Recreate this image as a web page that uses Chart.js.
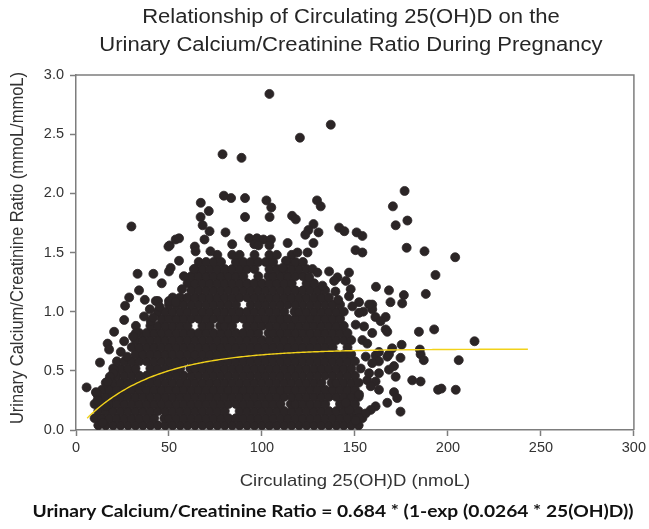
<!DOCTYPE html>
<html>
<head>
<meta charset="utf-8">
<title>Urinary Calcium/Creatinine Ratio vs 25(OH)D</title>
<script src="https://cdn.jsdelivr.net/npm/chart.js@4.4.1/dist/chart.umd.min.js"></script>
<style>
  html, body { margin: 0; padding: 0; background: #ffffff; }
  #wrap { width: 649px; height: 529px; }
</style>
</head>
<body>
<div id="wrap"><canvas id="chart" width="649" height="529"></canvas></div>
<script>
// ---- text ----
const titleLines = [
  'Relationship of Circulating 25(OH)D on the',
  'Urinary Calcium/Creatinine Ratio During Pregnancy'
];
const xTitle = 'Circulating 25(OH)D (nmoL)';
const yTitle = 'Urinary Calcium/Creatinine Ratio (mmoL/mmoL)';
const equation = 'Urinary Calcium/Creatinine Ratio = 0.684 * (1-exp (0.0264 * 25(OH)D))';

// ---- axes ----
const xTicks = [0, 50, 100, 150, 200, 250, 300];
const yTicks = [0, 0.5, 1.0, 1.5, 2.0, 2.5, 3.0];

// ---- fitted curve: ratio = A * (1 - exp(-k * 25(OH)D)) ----
const fitA = 0.684;
const fitK = 0.0264;
const fitRange = [6, 243];

// ---- observations: dense central cluster, one row per ratio level [ratio, [25(OH)D values]] ----
const clusterRows = [
  [0.04, [12,16,20,24,28,32,36,40,44,48,52,56,60,64,68,72,76,80,84,88,92,96,100,104,108,112,116,120,124,128,132,136,140,144,148,152]],
  [0.10, [10,14,18,22,26,30,34,38,42,47.5,50,54,58,62,66,70,74,78,82,86,90,94,98,102,106,110,114,118,122,126,130,134,138,142,146,150,154]],
  [0.16, [12,16,20,24,28,32,36,40,44,48,52,56,60,64,68,72,76,80,88,92,96,100,104,108,112,116,120,124,128,132,136,140,144,148,152]],
  [0.22, [10,14,18,22,26,30,34,38,42,46,50,54,58,62,66,70,74,78,82,86,90,94,98,102,106,110,115.5,118,122,126,130,134,142,146,150]],
  [0.28, [12,16,20,24,28,32,36,40,44,48,52,56,60,64,68,72,76,80,84,88,92,96,100,104,108,112,116,120,124,128,132,136,140,144,148,152]],
  [0.34, [14,18,22,26,30,34,38,42,46,50,54,58,62,66,70,74,78,82,86,90,94,98,102,106,110,114,118,122,126,130,134,138,142,146,150]],
  [0.40, [16,20,24,28,32,36,40,44,48,52,56,60,64,68,72,76,80,84,88,92,96,100,104,108,112,116,120,124,128,132,137.5,140,144,148,152]],
  [0.46, [22,26,30,34,38,42,46,50,54,58,62,66,70,74,78,82,86,90,94,98,102,106,110,114,118,122,126,130,134,138,142,146,150]],
  [0.52, [20,24,28,32,40,44,48,52,56,61.5,64,68,72,76,80,84,88,92,96,100,104,108,112,116,120,124,128,132,136,140,144,148]],
  [0.58, [22,26,30,34,38,42,46,50,54,58,62,66,70,74,78,82,86,90,94,98,102,106,110,114,118,122,126,130,134,138,142,146,150]],
  [0.64, [32,36,40,44,48,52,56,60,64,68,72,76,80,84,88,92,96,100,104,108,112,116,120,124,128,132,136,140,144,148]],
  [0.70, [30,34,38,42,46,50,54,58,62,66,70,74,78,82,86,90,94,98,102,106,110,114,118,122,126,130,134,138,146]],
  [0.76, [32,36,40,44,48,52,56,60,64,68,72,76,80,84,88,92,96,100,104,108,112,116,120,124,128,132,136,140,144,148]],
  [0.82, [34,38,42,46,50,54,58,62,66,70,74,78,82,86,90,94,98,103.5,106,110,114,118,122,126,130,134,138,142,146]],
  [0.88, [40,44,48,52,56,60,68,72,77.5,80,84,92,96,100,104,108,112,116,120,124,128,132,136,140,144]],
  [0.94, [46,50,54,58,62,66,70,74,78,82,86,90,94,98,102,106,110,114,118,122,126,130,134,138,142]],
  [1.00, [44,48,52,56,60,64,68,72,76,80,84,88,92,96,100,104,108,112,117.5,120,124,128,132,136,140,144]],
  [1.06, [50,54,58,62,66,70,74,78,82,86,94,98,102,106,110,114,118,122,126,130,134,138,142]],
  [1.12, [52,56,60,64,68,72,76,80,84,88,92,96,100,104,108,112,116,120,124,128,132,136]],
  [1.18, [62,66,70,74,78,82,86,90,94,98,102,106,110,114,118,122,126,130,134]],
  [1.24, [60,64,68,72,76,80,84,88,92,96,100,104,108,112,116,124,128]],
  [1.30, [62,66,70,74,78,82,86,90,98,103.5,106,110,114,118,122]],
  [1.36, [64,68,72,76,80,84,88,92,96,104,108,112,116,120,124]],
  [1.42, [66,70,74,78,86,90,94,98,102,106,114,118,122]],
  [1.48, [76,84,88,96,104,108,116]]
];

// ---- observations: sparse points around the cluster [25(OH)D, ratio] ----
const upperPoints = [
  [104.0,2.84],[137.0,2.58],[120.4,2.47],[78.8,2.33],[89.0,2.30],
  [79.5,1.98],[83.4,1.96],[90.9,1.96],[102.4,1.94],[105.0,1.88],
  [67.1,1.92],[71.4,1.85],[67.0,1.80],[68.1,1.73],[71.8,1.68],[69.1,1.61],
  [90.9,1.80],[104.1,1.80],[116.2,1.81],[118.2,1.78],[129.6,1.94],[131.6,1.89],
  [127.7,1.74],[125.0,1.69],[123.3,1.65],[130.4,1.67],[127.7,1.58],[113.8,1.58],
  [141.5,1.71],[144.3,1.68],[150.9,1.67],[154.0,1.64],[29.8,1.72],[80.4,1.67],
  [84.0,1.57],[93.2,1.62],[97.3,1.62],[100.8,1.61],[104.8,1.61],[95.9,1.57],[98.1,1.56],[104.0,1.56],
  [50.4,1.56],[53.6,1.61],[55.4,1.62],[63.9,1.55],[49.7,1.55],[64.3,1.51],[72.3,1.51],
  [176.7,2.02],[170.4,1.89],[178.2,1.77],[171.9,1.73],
  [150.3,1.52],[154.0,1.50],[177.8,1.54],[187.4,1.51],[203.9,1.46],[193.3,1.31],
  [112.9,1.43],[111.1,1.37],[119.1,1.50],[124.5,1.50],[127.2,1.36],[125.4,1.29],[129.8,1.33],
  [136.1,1.34],[140.6,1.29],[146.8,1.33],[145.1,1.26],[138.8,1.26]
];
const rightPoints = [
  [161.3,1.21],[168.3,1.18],[176.3,1.14],[175.4,1.07],[188.1,1.15],[169.1,1.08],[159.3,1.06],[154.5,1.00],
  [161.0,0.955],[166.5,0.955],[163.8,0.92],[167.4,0.83],[184.4,0.83],[192.6,0.85],[214.3,0.75],
  [175.1,0.72],[170.0,0.69],[184.9,0.68],[185.3,0.64],[187.0,0.59],[174.5,0.61],[205.8,0.59],
  [180.8,0.42],[185.3,0.41],[194.7,0.34],[196.5,0.35],[204.2,0.34],[174.5,0.155],
  [161.1,0.63],[167.4,0.62],[162.9,0.58],[171.0,0.54],[168.3,0.51],[162.9,0.48],[171.9,0.45],
  [156.6,0.42],[161.1,0.41],[158.5,0.37],[162.9,0.34],[171.0,0.32],[172.7,0.27],[167.4,0.23],
  [161.1,0.20],[158.5,0.17],[155.8,0.14],[152.2,0.10],[150.4,0.08],[146.8,0.17],[145.1,0.23],[152.2,0.30],
  [157.6,0.48],[153.1,0.52],[159.3,0.565],[155.8,0.62],[162.9,0.66],[168.3,0.64],[154.0,0.76],[156.6,0.73],
  [159.3,0.82],[166.5,0.85],[154.9,0.875],[150.4,0.89],[159.3,1.02],[152.2,0.99],[157.6,1.06],[152.2,1.08],
  [146.8,1.13],[147.7,1.19],[148.6,1.045],[139.5,1.17],[141.0,1.10],[132.5,1.22]
];
const leftPoints = [
  [55.4,1.43],[50.9,1.37],[50.0,1.34],[58.0,1.30],[63.4,1.36],[57.0,1.19],
  [33.1,1.32],[41.6,1.32],[46.1,1.24],[33.9,1.18],[28.6,1.12],[37.0,1.10],[26.4,1.05],[42.9,1.09],
  [50.0,1.09],[53.6,1.08],[44.1,1.09],[45.0,1.04],[39.7,1.02],[36.6,0.96],[40.2,0.92],[25.9,0.93],[32.2,0.88],
  [41.5,0.95],[20.5,0.83],[32.2,0.82],[30.7,0.79],[17.0,0.73],[25.9,0.75],[17.8,0.68],[24.1,0.66],[27.5,0.62],
  [12.9,0.57],[20.5,0.51],[20.0,0.48],[18.2,0.45],[17.0,0.41],[5.7,0.36],[10.7,0.32],[11.1,0.31],[11.6,0.25],
  [16.1,0.20],[14.3,0.06]
];

// ---- styling ----
const dotColor = '#2b2526';
const fitColor = '#f2d21a';
const axisColor = '#7d7d7d';
const textColor = '#262626';
const sans = '"Liberation Sans", Arial, Helvetica, sans-serif';
const textStretch = 1.13;   // lettering is set slightly wide

// ---- build datasets ----
const observations = [];
clusterRows.forEach(([ratio, xs]) => xs.forEach(v => observations.push({ x: v, y: ratio })));
[upperPoints, rightPoints, leftPoints].forEach(list =>
  list.forEach(([v, ratio]) => observations.push({ x: v, y: ratio })));

const fitLine = [];
for (let v = fitRange[0]; v <= fitRange[1]; v += 1) {
  fitLine.push({ x: v, y: fitA * (1 - Math.exp(-fitK * v)) });
}

function wideText(ctx, text, x, y, font, color) {
  ctx.save();
  ctx.font = font;
  ctx.fillStyle = color;
  ctx.textAlign = 'center';
  ctx.textBaseline = 'middle';
  ctx.translate(x, y);
  ctx.scale(textStretch, 1);
  ctx.fillText(text, 0, 0);
  ctx.restore();
}

// frame on the top and right, plus all titles
const decorations = {
  id: 'decorations',
  afterDraw(chart) {
    const ctx = chart.ctx;
    const a = chart.chartArea;
    ctx.save();
    ctx.strokeStyle = axisColor;
    ctx.lineWidth = 1.5;
    ctx.beginPath();
    ctx.moveTo(a.left, a.top);
    ctx.lineTo(a.right, a.top);
    ctx.lineTo(a.right, a.bottom);
    ctx.stroke();
    ctx.restore();

    const cx = (a.left + a.right) / 2;
    wideText(ctx, titleLines[0], cx - 4, 18, '19.5px ' + sans, textColor);
    wideText(ctx, titleLines[1], cx - 4, 46, '19.5px ' + sans, textColor);
    wideText(ctx, xTitle, cx, 481, '16.4px ' + sans, '#333333');
    wideText(ctx, equation, 333, 512, 'bold 17px Lato, "Open Sans", sans-serif', '#111111');

    ctx.save();
    ctx.font = '16.5px ' + sans;
    ctx.fillStyle = '#333333';
    ctx.textAlign = 'center';
    ctx.textBaseline = 'middle';
    ctx.translate(18, 248);
    ctx.rotate(-Math.PI / 2);
    ctx.scale(1, textStretch);
    ctx.fillText(yTitle, 0, 0);
    ctx.restore();
  }
};

new Chart(document.getElementById('chart'), {
  type: 'scatter',
  data: {
    datasets: [
      {
        type: 'line',
        data: fitLine,
        borderColor: fitColor,
        borderWidth: 1.4,
        pointRadius: 0,
        fill: false,
        tension: 0,
        order: 0
      },
      {
        data: observations,
        backgroundColor: dotColor,
        borderColor: dotColor,
        borderWidth: 0.8,
        pointRadius: 4.5,
        pointHoverRadius: 4.5,
        order: 1
      }
    ]
  },
  options: {
    responsive: false,
    devicePixelRatio: 1,
    animation: false,
    events: [],
    layout: { padding: { top: 75, right: 13, left: 0, bottom: 0 } },
    plugins: { legend: { display: false }, tooltip: { enabled: false }, title: { display: false } },
    scales: {
      x: {
        type: 'linear',
        min: xTicks[0],
        max: xTicks[xTicks.length - 1],
        afterBuildTicks: s => { s.ticks = xTicks.map(v => ({ value: v })); },
        afterFit: s => { s.height = 99; },
        border: { display: true, color: axisColor, width: 1.5 },
        grid: { drawOnChartArea: false, drawTicks: true, tickLength: 6, tickColor: axisColor, tickWidth: 1.5 },
        ticks: { color: '#333333', font: { family: sans, size: 14.5 }, padding: 3, maxRotation: 0, callback: v => String(v) }
      },
      y: {
        type: 'linear',
        min: yTicks[0],
        max: yTicks[yTicks.length - 1],
        afterBuildTicks: s => { s.ticks = yTicks.map(v => ({ value: v })); },
        afterFit: s => { s.width = 76; },
        border: { display: true, color: axisColor, width: 1.5 },
        grid: { drawOnChartArea: false, drawTicks: true, tickLength: 6, tickColor: axisColor, tickWidth: 1.5 },
        ticks: { color: '#333333', font: { family: sans, size: 14.5 }, padding: 6, callback: v => Number(v).toFixed(1) }
      }
    }
  },
  plugins: [decorations]
});
</script>
</body>
</html>
